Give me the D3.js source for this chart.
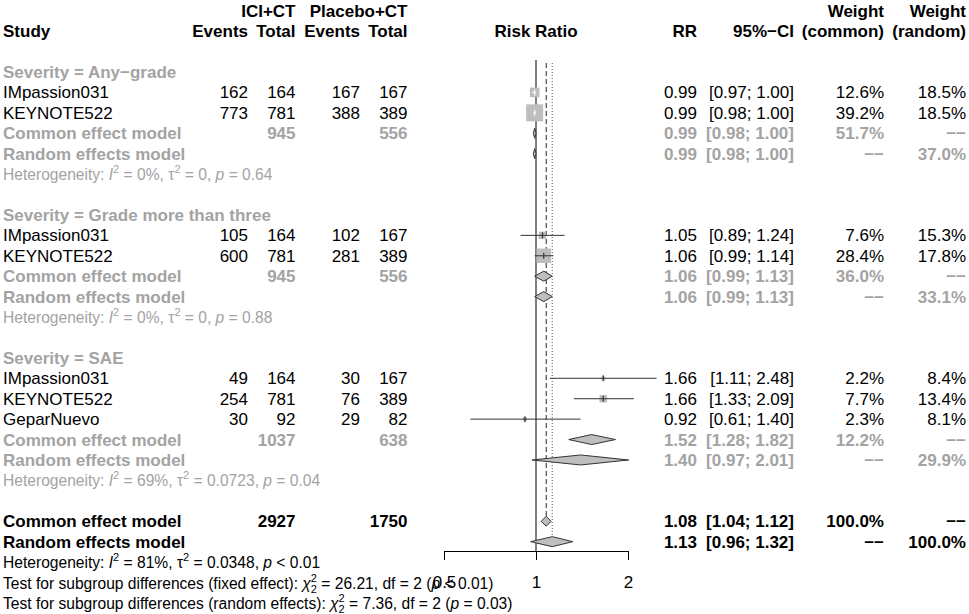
<!DOCTYPE html>
<html>
<head>
<meta charset="utf-8">
<script src="https://cdn.jsdelivr.net/npm/d3@7"></script>
<style>
  body { margin: 0; background: #fff; }
  svg { display: block; font-family: "Liberation Sans", Arial, Helvetica, sans-serif; }
</style>
</head>
<body>
<script>
// forest plot: risk ratio of ICI+CT vs placebo+CT by severity

const subgroups = ["Severity = Any\u2212grade", "Severity = Grade more than three", "Severity = SAE"];

const studyGroup = [0, 0, 1, 1, 2, 2, 2];
const studyNames = ["IMpassion031", "KEYNOTE522", "IMpassion031", "KEYNOTE522", "IMpassion031", "KEYNOTE522", "GeparNuevo"];
const eventsICI = [162, 773, 105, 600, 49, 254, 30];
const totalICI = [164, 781, 164, 781, 164, 781, 92];
const eventsPlacebo = [167, 388, 102, 281, 30, 76, 29];
const totalPlacebo = [167, 389, 167, 389, 167, 389, 82];
const rr = [0.99, 0.99, 1.05, 1.06, 1.66, 1.66, 0.92];
const ciLow = [0.97, 0.98, 0.89, 0.99, 1.11, 1.33, 0.61];
const ciHigh = [1.00, 1.00, 1.24, 1.14, 2.48, 2.09, 1.40];
const weightCommon = [12.6, 39.2, 7.6, 28.4, 2.2, 7.7, 2.3];
const weightRandom = [18.5, 18.5, 15.3, 17.8, 8.4, 13.4, 8.1];

// subgroup summaries: [estimate, lower, upper]
const groupTotalICI = [945, 945, 1037];
const groupTotalPlacebo = [556, 556, 638];
const groupCommon = [[0.99, 0.98, 1.00], [1.06, 0.99, 1.13], [1.52, 1.28, 1.82]];
const groupRandom = [[0.99, 0.98, 1.00], [1.06, 0.99, 1.13], [1.40, 0.97, 2.01]];
const groupWeightCommon = [51.7, 36.0, 12.2];
const groupWeightRandom = [37.0, 33.1, 29.9];
const groupI2 = ["0%", "0%", "69%"];
const groupTau2 = ["0", "0", "0.0723"];
const groupP = ["= 0.64", "= 0.88", "= 0.04"];

// overall
const overallTotalICI = 2927;
const overallTotalPlacebo = 1750;
const overallCommon = [1.08, 1.04, 1.12];
const overallRandom = [1.13, 0.96, 1.32];
const overallI2 = "81%";
const overallTau2 = "0.0348";
const overallP = "< 0.01";
const testFixed = { chi2: "26.21", df: "2", p: "< 0.01" };
const testRandom = { chi2: "7.36", df: "2", p: "= 0.03" };

const axisTicks = [0.5, 1, 2];

const W = 969, H = 614;
const fs = 17;
const fsStat = 15.6;
const grey = "#a3a3a3";
const boxGrey = "#bebebe";
const f2 = d3.format(".2f");
const f1 = d3.format(".1f");
const none = "\u2212\u2212";

const col = { study: 3, eventsE: 248, totalE: 295.5, eventsC: 360, totalC: 407.5,
  rr: 697, ci: 794, wc: 884, wr: 966 };

const x = d3.scaleLog().domain([0.5, 2]).range([444, 628]);
const boxSide = d3.scaleSqrt().domain([0, 39.2]).range([0, 17]);
const rowY = i => 72 + (i - 3) * 20.42;

const svg = d3.select("body").append("svg")
  .attr("width", W).attr("height", H);
svg.append("rect").attr("width", W).attr("height", H).attr("fill", "#fff");

const gText = svg.append("g").attr("font-size", fs);
const gPlot = svg.append("g");

function txt(row, xPos, s, o) {
  o = o || {};
  return gText.append("text")
    .attr("x", xPos).attr("y", rowY(row) + 6)
    .attr("text-anchor", o.anchor || "end")
    .attr("font-weight", o.bold ? "bold" : null)
    .attr("fill", o.fill || "#000")
    .text(s);
}

// text with italic / superscript / subscript pieces
function rich(row, xPos, parts, fill) {
  const t = gText.append("text")
    .attr("x", xPos).attr("y", rowY(row) + 6)
    .attr("font-size", fsStat)
    .attr("fill", fill);
  let cur = 0;
  parts.forEach(p => {
    if (typeof p === "string") p = { t: p };
    const target = p.sup ? -7 : p.sub ? 4 : 0;
    const ts = t.append("tspan").text(p.t);
    if (target !== cur) ts.attr("dy", target - cur);
    if (p.dx) ts.attr("dx", p.dx);
    if (p.sup || p.sub) ts.attr("font-size", 11);
    if (p.it) ts.attr("font-style", "italic");
    cur = target;
  });
  return t;
}

function hetParts(i2, tau2, p) {
  return ["Heterogeneity: ", { t: "I", it: true }, { t: "2", sup: true }, " = " + i2 + ", \u03c4",
    { t: "2", sup: true }, " = " + tau2 + ", ", { t: "p", it: true }, " " + p];
}

function testParts(label, t) {
  return ["Test for subgroup differences (" + label + "): ", { t: "\u03c7", it: true }, { t: "2", sup: true },
    { t: "2", sub: true, dx: -6.1 }, " = " + t.chi2 + ", df = " + t.df + " (",
    { t: "p", it: true }, " " + t.p + ")"];
}

function ciStr(c) { return "[" + f2(c[1]) + "; " + f2(c[2]) + "]"; }

function diamond(row, c) {
  const y = rowY(row);
  gPlot.append("polygon")
    .attr("points", [[x(c[1]), y], [x(c[0]), y - 5], [x(c[2]), y], [x(c[0]), y + 5]].join(" "))
    .attr("fill", boxGrey).attr("stroke", "#333").attr("stroke-width", 1);
}

// header
txt(0, col.totalE, "ICI+CT", { bold: true });
txt(0, col.totalC, "Placebo+CT", { bold: true });
txt(0, col.wc, "Weight", { bold: true });
txt(0, col.wr, "Weight", { bold: true });
txt(1, col.study, "Study", { bold: true, anchor: "start" });
txt(1, col.eventsE, "Events", { bold: true });
txt(1, col.totalE, "Total", { bold: true });
txt(1, col.eventsC, "Events", { bold: true });
txt(1, col.totalC, "Total", { bold: true });
txt(1, x(1), "Risk Ratio", { bold: true, anchor: "middle" });
txt(1, col.rr, "RR", { bold: true });
txt(1, col.ci, "95%\u2212CI", { bold: true });
txt(1, col.wc, "(common)", { bold: true });
txt(1, col.wr, "(random)", { bold: true });

let r = 3;
subgroups.forEach((g, gi) => {
  txt(r, col.study, g, { bold: true, anchor: "start", fill: grey });
  r++;
  studyNames.forEach((name, i) => {
    if (studyGroup[i] !== gi) return;
    txt(r, col.study, name, { anchor: "start" });
    txt(r, col.eventsE, eventsICI[i]);
    txt(r, col.totalE, totalICI[i]);
    txt(r, col.eventsC, eventsPlacebo[i]);
    txt(r, col.totalC, totalPlacebo[i]);
    txt(r, col.rr, f2(rr[i]));
    txt(r, col.ci, "[" + f2(ciLow[i]) + "; " + f2(ciHigh[i]) + "]");
    txt(r, col.wc, f1(weightCommon[i]) + "%");
    txt(r, col.wr, f1(weightRandom[i]) + "%");

    const y = rowY(r), s = boxSide(weightCommon[i]);
    const cx = x(rr[i]);
    gPlot.append("rect")
      .attr("x", cx - s / 2).attr("y", y - s / 2)
      .attr("width", s).attr("height", s)
      .attr("fill", boxGrey);
    const inside = x(ciLow[i]) >= cx - s / 2 && x(ciHigh[i]) <= cx + s / 2;
    const lc = inside ? "#fff" : "#333";
    gPlot.append("line")
      .attr("x1", x(ciLow[i])).attr("x2", x(ciHigh[i]))
      .attr("y1", y).attr("y2", y)
      .attr("stroke", lc).attr("stroke-width", 1);
    gPlot.append("line")
      .attr("x1", cx).attr("x2", cx)
      .attr("y1", y - 3).attr("y2", y + 3)
      .attr("stroke", lc).attr("stroke-width", 1.2);
    r++;
  });

  txt(r, col.study, "Common effect model", { bold: true, anchor: "start", fill: grey });
  txt(r, col.totalE, groupTotalICI[gi], { bold: true, fill: grey });
  txt(r, col.totalC, groupTotalPlacebo[gi], { bold: true, fill: grey });
  txt(r, col.rr, f2(groupCommon[gi][0]), { bold: true, fill: grey });
  txt(r, col.ci, ciStr(groupCommon[gi]), { bold: true, fill: grey });
  txt(r, col.wc, f1(groupWeightCommon[gi]) + "%", { bold: true, fill: grey });
  txt(r, col.wr, none, { bold: true, fill: grey });
  diamond(r, groupCommon[gi]);
  r++;

  txt(r, col.study, "Random effects model", { bold: true, anchor: "start", fill: grey });
  txt(r, col.rr, f2(groupRandom[gi][0]), { bold: true, fill: grey });
  txt(r, col.ci, ciStr(groupRandom[gi]), { bold: true, fill: grey });
  txt(r, col.wc, none, { bold: true, fill: grey });
  txt(r, col.wr, f1(groupWeightRandom[gi]) + "%", { bold: true, fill: grey });
  diamond(r, groupRandom[gi]);
  r++;

  rich(r, col.study, hetParts(groupI2[gi], groupTau2[gi], groupP[gi]), grey);
  r += 2;
});

// overall
const rowCommon = r, rowRandom = r + 1;
txt(rowCommon, col.study, "Common effect model", { bold: true, anchor: "start" });
txt(rowCommon, col.totalE, overallTotalICI, { bold: true });
txt(rowCommon, col.totalC, overallTotalPlacebo, { bold: true });
txt(rowCommon, col.rr, f2(overallCommon[0]), { bold: true });
txt(rowCommon, col.ci, ciStr(overallCommon), { bold: true });
txt(rowCommon, col.wc, "100.0%", { bold: true });
txt(rowCommon, col.wr, none, { bold: true });
diamond(rowCommon, overallCommon);

txt(rowRandom, col.study, "Random effects model", { bold: true, anchor: "start" });
txt(rowRandom, col.rr, f2(overallRandom[0]), { bold: true });
txt(rowRandom, col.ci, ciStr(overallRandom), { bold: true });
txt(rowRandom, col.wc, none, { bold: true });
txt(rowRandom, col.wr, "100.0%", { bold: true });
diamond(rowRandom, overallRandom);

rich(r + 2, col.study, hetParts(overallI2, overallTau2, overallP), "#000");
rich(r + 3, col.study, testParts("fixed effect", testFixed), "#000");
rich(r + 4, col.study, testParts("random effects", testRandom), "#000");

// reference lines
const axisY = 551;
gPlot.insert("line", ":first-child")
  .attr("x1", x(1)).attr("x2", x(1)).attr("y1", 60).attr("y2", axisY)
  .attr("stroke", "#000").attr("stroke-width", 1);
gPlot.insert("line", ":first-child")
  .attr("x1", x(overallCommon[0])).attr("x2", x(overallCommon[0]))
  .attr("y1", 63).attr("y2", rowY(rowCommon) - 5)
  .attr("stroke", "#222").attr("stroke-width", 1).attr("stroke-dasharray", "5,3");
gPlot.insert("line", ":first-child")
  .attr("x1", x(overallRandom[0])).attr("x2", x(overallRandom[0]))
  .attr("y1", 63).attr("y2", rowY(rowRandom) - 5)
  .attr("stroke", "#555").attr("stroke-width", 1).attr("stroke-dasharray", "1,2");

// axis
const axis = svg.append("g")
  .attr("transform", "translate(0," + axisY + ")")
  .call(d3.axisBottom(x).tickValues(axisTicks).tickFormat(d3.format(""))
    .tickSizeInner(9).tickSizeOuter(0).tickPadding(16));
axis.attr("font-size", fs).attr("font-family", null);
axis.selectAll("path, line").attr("stroke", "#000");
</script>
</body>
</html>
